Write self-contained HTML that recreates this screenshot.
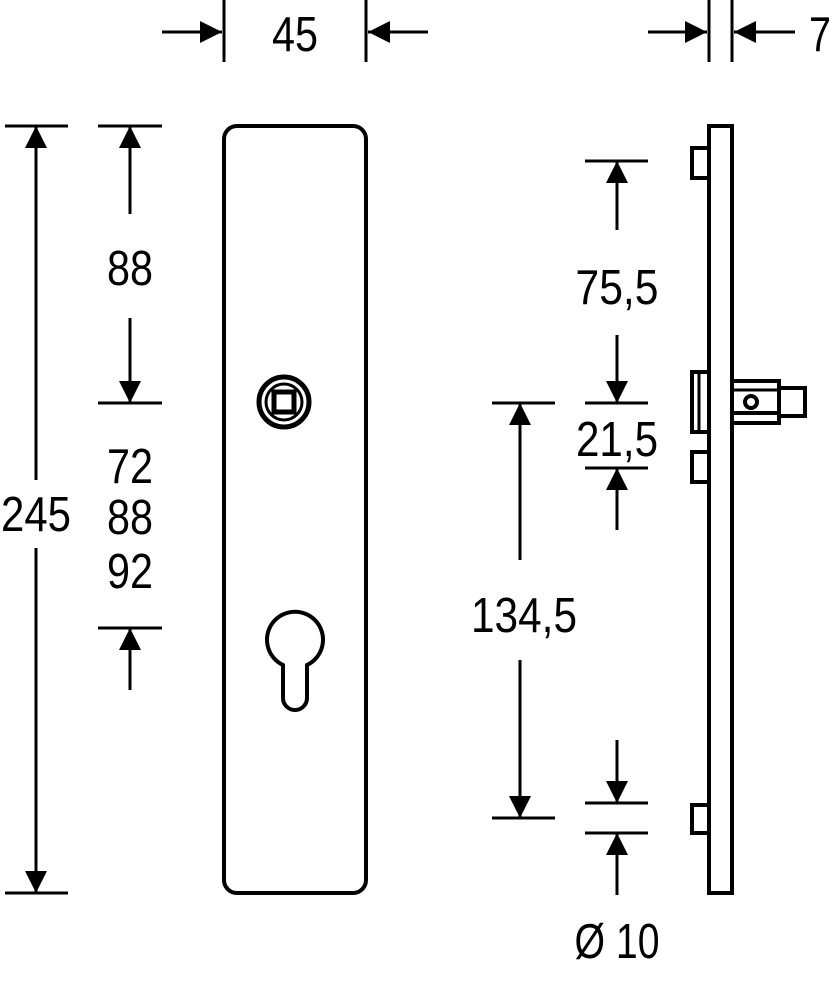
<!DOCTYPE html>
<html><head><style>body{margin:0;background:#fff}svg{display:block}
text{font-family:"Liberation Sans",sans-serif;font-size:49px;fill:#000;text-anchor:middle}</style></head>
<body>
<svg width="832" height="1000" viewBox="0 0 832 1000" xmlns="http://www.w3.org/2000/svg">
<defs>
<marker id="b" viewBox="0 0 10 10" refX="10" refY="5" markerWidth="26" markerHeight="22" markerUnits="userSpaceOnUse" orient="auto"><path d="M0,0L10,5L0,10z"/></marker></defs>
<g stroke="#000" stroke-width="3" fill="none">
<rect x="224" y="126" width="142" height="767" rx="13" stroke-width="4"/>
<circle cx="284" cy="402" r="25" stroke-width="5"/>
<circle cx="284" cy="402" r="18" stroke-width="3"/>
<rect x="274" y="392" width="20" height="20" stroke-width="5"/>
<path d="M283,665 A28,28 0 1 1 307,665 L307,698 A12,12 0 0 1 283,698 Z" stroke-width="4"/>
<rect x="709" y="126" width="23" height="767" stroke-width="4"/>
<rect x="692" y="148" width="17" height="30" stroke-width="4"/>
<rect x="692" y="452" width="17" height="30" stroke-width="4"/>
<rect x="692" y="805" width="17" height="28" stroke-width="4"/>
<rect x="692" y="372" width="17" height="60" stroke-width="4"/>
<line x1="699" y1="372" x2="699" y2="432"/>
<rect x="732" y="381" width="47" height="42" stroke-width="4"/>
<line x1="732" y1="390" x2="779" y2="390"/><line x1="732" y1="413" x2="779" y2="413" stroke-width="4"/>
<circle cx="751" cy="402" r="6" stroke-width="4"/>
<rect x="779" y="388" width="26" height="28" stroke-width="4"/>
<g stroke-width="3">
<line x1="5" y1="126" x2="68" y2="126"/><line x1="5" y1="893" x2="68" y2="893"/>
<line x1="36" y1="480" x2="36" y2="126" marker-end="url(#b)"/>
<line x1="36" y1="548" x2="36" y2="893" marker-end="url(#b)"/>
<line x1="98" y1="126" x2="162" y2="126"/><line x1="98" y1="403" x2="162" y2="403"/><line x1="98" y1="628" x2="162" y2="628"/>
<line x1="130" y1="214" x2="130" y2="126" marker-end="url(#b)"/>
<line x1="130" y1="318" x2="130" y2="403" marker-end="url(#b)"/>
<line x1="130" y1="690" x2="130" y2="628" marker-end="url(#b)"/>
<line x1="224" y1="0" x2="224" y2="62"/><line x1="366" y1="0" x2="366" y2="62"/>
<line x1="162" y1="32" x2="222" y2="32" marker-end="url(#b)"/>
<line x1="428" y1="32" x2="368" y2="32" marker-end="url(#b)"/>
<line x1="709" y1="0" x2="709" y2="62"/><line x1="732" y1="0" x2="732" y2="62"/>
<line x1="648" y1="32" x2="707" y2="32" marker-end="url(#b)"/>
<line x1="795" y1="32" x2="734" y2="32" marker-end="url(#b)"/>
<line x1="585" y1="161" x2="648" y2="161"/><line x1="585" y1="403" x2="648" y2="403"/><line x1="585" y1="468" x2="648" y2="468"/>
<line x1="617" y1="230" x2="617" y2="161" marker-end="url(#b)"/>
<line x1="617" y1="335" x2="617" y2="403" marker-end="url(#b)"/>
<line x1="617" y1="530" x2="617" y2="468" marker-end="url(#b)"/>
<line x1="492" y1="403" x2="555" y2="403"/><line x1="492" y1="818" x2="555" y2="818"/>
<line x1="520" y1="560" x2="520" y2="403" marker-end="url(#b)"/>
<line x1="520" y1="660" x2="520" y2="818" marker-end="url(#b)"/>
<line x1="585" y1="803" x2="648" y2="803"/><line x1="585" y1="833" x2="648" y2="833"/>
<line x1="617" y1="740" x2="617" y2="803" marker-end="url(#b)"/>
<line x1="617" y1="895" x2="617" y2="833" marker-end="url(#b)"/>
</g></g>
<text x="36" y="531" textLength="70" lengthAdjust="spacingAndGlyphs">245</text>
<text x="130" y="285" textLength="46" lengthAdjust="spacingAndGlyphs">88</text>
<text x="130" y="483" textLength="46" lengthAdjust="spacingAndGlyphs">72</text>
<text x="130" y="534" textLength="46" lengthAdjust="spacingAndGlyphs">88</text>
<text x="130" y="588" textLength="46" lengthAdjust="spacingAndGlyphs">92</text>
<text x="295" y="51" textLength="46" lengthAdjust="spacingAndGlyphs">45</text>
<text x="820" y="51" textLength="22" lengthAdjust="spacingAndGlyphs">7</text>
<text x="617" y="304" textLength="83" lengthAdjust="spacingAndGlyphs">75,5</text>
<text x="617" y="456" textLength="82" lengthAdjust="spacingAndGlyphs">21,5</text>
<text x="524" y="632" textLength="106" lengthAdjust="spacingAndGlyphs">134,5</text>
<text x="617" y="958" textLength="85" lengthAdjust="spacingAndGlyphs">Ø 10</text>
</svg>
</body></html>
